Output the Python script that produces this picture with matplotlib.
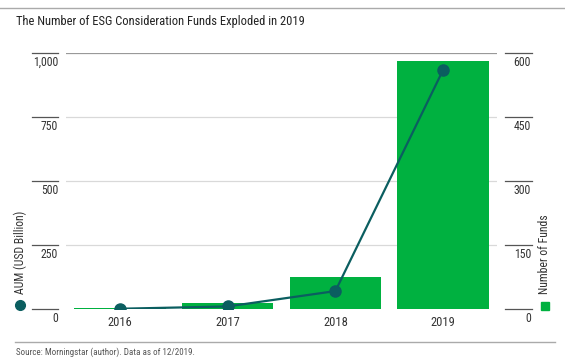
import matplotlib
matplotlib.use("Agg")
import matplotlib.pyplot as plt
import matplotlib.transforms as mtransforms
from matplotlib.lines import Line2D
from matplotlib.patches import Rectangle

plt.rcParams['font.family'] = ['Roboto Condensed', 'DejaVu Sans']

# data
years = ['2016', '2017', '2018', '2019']
num_funds = [2, 15, 74, 582]
aum_bn = [1, 10, 70, 934]
aum_ticks = [0, 250, 500, 750, 1000]
fund_ticks = [0, 150, 300, 450, 600]

GREEN = '#00b140'
TEAL = '#0b5e60'
TXT = '#333333'

W, H = 565, 362
fig = plt.figure(figsize=(W / 100, H / 100), dpi=100)
ax = fig.add_axes([66 / W, 1 - 309 / H, (497 - 66) / W, (309 - 53) / H])
ax2 = ax.twinx()

x = list(range(len(years)))
# gridlines behind the bars
for v in fund_ticks[1:]:
    ax2.axhline(v, color='#999999' if v == 600 else '#d9d9d9', lw=0.9, zorder=0)
ax2.bar(x, num_funds, width=0.85, color=GREEN, zorder=1)
ax.plot(x, aum_bn, color=TEAL, lw=1.6, marker='o', ms=8, zorder=5)
ax.set_zorder(ax2.get_zorder() + 1)
ax.patch.set_visible(False)

ax.set_xlim(-0.5, 3.5)
ax.set_ylim(0, 1000)
ax2.set_ylim(0, 600)

for a in (ax, ax2):
    for s in a.spines.values():
        s.set_visible(False)
    a.set_yticks([])
ax.set_xticks(x)
ax.set_xticklabels(years, fontsize=9, color=TXT)
ax.tick_params(axis='x', length=0, pad=5)

# custom tick marks + labels
bl = mtransforms.blended_transform_factory(fig.transFigure, ax.transData)
br = mtransforms.blended_transform_factory(fig.transFigure, ax2.transData)
for v in aum_ticks:
    fig.add_artist(Line2D([32 / W, 58 / W], [v, v], transform=bl, color='#555555', lw=0.9))
    fig.text(58 / W, v - 10, f'{v:,}', transform=bl, ha='right', va='top',
             fontsize=8.5, color=TXT)
for v in fund_ticks:
    fig.add_artist(Line2D([505 / W, 532 / W], [v, v], transform=br, color='#555555', lw=0.9))
    fig.text(531 / W, v - 6, f'{v}', transform=br, ha='right', va='top',
             fontsize=8.5, color=TXT)

# axis titles with legend keys
fig.text(20 / W, 1 - 294 / H, 'AUM (USD Billion)', rotation=90, ha='center', va='bottom',
         fontsize=8.5, color=TXT)
fig.add_artist(Line2D([20 / W], [1 - 305 / H], marker='o', ms=7, color=TEAL))
fig.text(545 / W, 1 - 294 / H, 'Number of Funds', rotation=90, ha='center', va='bottom',
         fontsize=8.5, color=TXT)
fig.add_artist(Rectangle((541 / W, 1 - 310 / H), 8 / W, 8 / H, color=GREEN,
                         transform=fig.transFigure))

# title, rules, source
fig.add_artist(Line2D([0, 1], [1 - 8 / H, 1 - 8 / H], color='#aaaaaa', lw=1))
fig.text(16 / W, 1 - 22 / H, 'The Number of ESG Consideration Funds Exploded in 2019',
         ha='left', va='center', fontsize=9, color='#222222')
fig.add_artist(Line2D([15 / W, 555 / W], [1 - 342 / H, 1 - 342 / H], color='#aaaaaa', lw=1))
fig.text(16 / W, 1 - 352 / H, 'Source: Morningstar (author). Data as of 12/2019.',
         ha='left', va='center', fontsize=6.5, color='#555555')

fig.savefig('out.png', dpi=100)
